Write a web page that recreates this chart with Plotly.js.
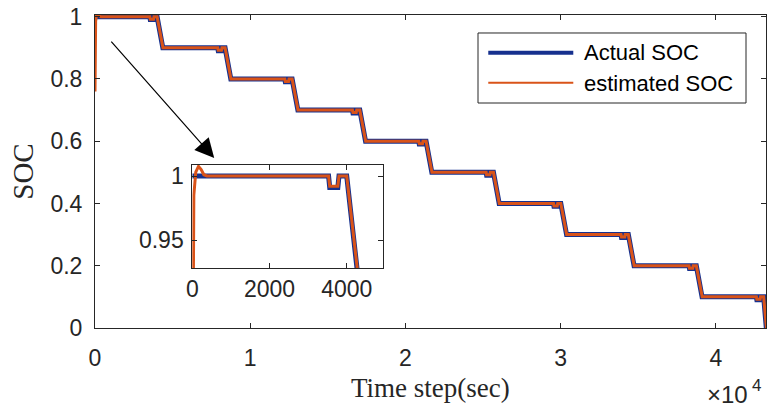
<!DOCTYPE html>
<html>
<head>
<meta charset="utf-8">
<script src="https://cdn.plot.ly/plotly-3.0.1.min.js"></script>
<style>html,body{margin:0;padding:0;background:#fff;}#chart{width:767px;height:410px;}</style>
</head>
<body>
<div id="chart"></div>
<script>
// ---- data ----
var actualTime = [0,
  3530, 3560, 3770, 3800, 4000, 4370,
  7910, 7940, 8150, 8180, 8380, 8750,
  12230, 12260, 12470, 12500, 12700, 13070,
  16590, 16620, 16830, 16860, 17060, 17430,
  20860, 20890, 21100, 21130, 21330, 21700,
  25200, 25230, 25440, 25470, 25670, 26040,
  29540, 29570, 29780, 29810, 30010, 30380,
  33890, 33920, 34130, 34160, 34360, 34730,
  38270, 38300, 38510, 38540, 38740, 39110,
  42610, 42640, 42850, 42880, 43080, 43250];
var actualSOC = [1,
  1, 0.991, 0.991, 1, 1, 0.9,
  0.9, 0.891, 0.891, 0.9, 0.9, 0.8,
  0.8, 0.791, 0.791, 0.8, 0.8, 0.7,
  0.7, 0.691, 0.691, 0.7, 0.7, 0.6,
  0.6, 0.591, 0.591, 0.6, 0.6, 0.5,
  0.5, 0.491, 0.491, 0.5, 0.5, 0.4,
  0.4, 0.391, 0.391, 0.4, 0.4, 0.3,
  0.3, 0.291, 0.291, 0.3, 0.3, 0.2,
  0.2, 0.191, 0.191, 0.2, 0.2, 0.1,
  0.1, 0.091, 0.091, 0.1, 0.1, 0];

var estTime = [0, 15, 40, 90, 160, 230, 300, 380,
  3530, 3560, 3770, 3800, 4000, 4380,
  7910, 7940, 8150, 8180, 8380, 8760,
  12230, 12260, 12470, 12500, 12700, 13080,
  16590, 16620, 16830, 16860, 17060, 17440,
  20860, 20890, 21100, 21130, 21330, 21710,
  25200, 25230, 25440, 25470, 25670, 26050,
  29540, 29570, 29780, 29810, 30010, 30390,
  33890, 33920, 34130, 34160, 34360, 34740,
  38270, 38300, 38510, 38540, 38740, 39120,
  42610, 42640, 42850, 42880, 43080, 43260];
var estSOC = [0.76, 0.92, 0.985, 1.003, 1.0075, 1.005, 1.001, 1.0,
  1, 0.992, 0.992, 1, 1, 0.9,
  0.9, 0.892, 0.892, 0.9, 0.9, 0.8,
  0.8, 0.792, 0.792, 0.8, 0.8, 0.7,
  0.7, 0.692, 0.692, 0.7, 0.7, 0.6,
  0.6, 0.592, 0.592, 0.6, 0.6, 0.5,
  0.5, 0.492, 0.492, 0.5, 0.5, 0.4,
  0.4, 0.392, 0.392, 0.4, 0.4, 0.3,
  0.3, 0.292, 0.292, 0.3, 0.3, 0.2,
  0.2, 0.192, 0.192, 0.2, 0.2, 0.1,
  0.1, 0.092, 0.092, 0.1, 0.1, 0];

var seriesNames = ['Actual SOC', 'estimated SOC'];
var xTickVals = [0, 10000, 20000, 30000, 40000];
var xTickText = ['0', '1', '2', '3', '4'];
var yTickVals = [0, 0.2, 0.4, 0.6, 0.8, 1];
var yTickText = ['0', '0.2', '0.4', '0.6', '0.8', '1'];
var insetXTickVals = [0, 2000, 4000];
var insetXTickText = ['0', '2000', '4000'];
var insetYTickVals = [0.95, 1];
var insetYTickText = ['0.95', '1'];
var xTitle = 'Time step(sec)';
var yTitle = 'SOC';

// ---- styling ----
var BLUE = '#16308e';
var ORANGE = '#d95319';
var AX = '#262626';
var SANS = 'Liberation Sans, Arial, sans-serif';
var SERIF = 'Liberation Serif, Times New Roman, serif';

var traces = [
  {x: actualTime, y: actualSOC, name: seriesNames[0], mode: 'lines', line: {color: BLUE, width: 5}, xaxis: 'x', yaxis: 'y', showlegend: false},
  {x: estTime, y: estSOC, name: seriesNames[1], mode: 'lines', line: {color: ORANGE, width: 3}, xaxis: 'x', yaxis: 'y', showlegend: false},
  {x: actualTime, y: actualSOC, name: seriesNames[0], mode: 'lines', line: {color: BLUE, width: 5}, xaxis: 'x2', yaxis: 'y2', showlegend: false},
  {x: estTime, y: estSOC, name: seriesNames[1], mode: 'lines', line: {color: ORANGE, width: 3}, xaxis: 'x2', yaxis: 'y2', showlegend: false}
];

function axStyle(extra) {
  var a = {
    showgrid: false, zeroline: false, showline: true, mirror: 'ticks',
    linecolor: AX, linewidth: 1, ticks: 'inside', ticklen: 5, tickwidth: 1, tickcolor: AX,
    tickfont: {family: SANS, size: 23, color: AX}, tickmode: 'array', fixedrange: true
  };
  for (var k in extra) a[k] = extra[k];
  return a;
}

var layout = {
  width: 767, height: 410,
  margin: {l: 95, r: 1, t: 15, b: 82},
  paper_bgcolor: '#fff', plot_bgcolor: '#fff',
  showlegend: false,
  xaxis: axStyle({domain: [0, 1], anchor: 'y', range: [0, 43230], tickvals: xTickVals, ticktext: xTickText,
    ticklabelstandoff: 9}),
  yaxis: axStyle({domain: [0, 1], anchor: 'x', range: [0, 1.0055], tickvals: yTickVals, ticktext: yTickText,
    ticklabelstandoff: 7,
    title: {text: yTitle, font: {family: SERIF, size: 29, color: AX}, standoff: 8}}),
  xaxis2: axStyle({domain: [0.145, 0.4288], anchor: 'y2', range: [0, 4933], tickvals: insetXTickVals, ticktext: insetXTickText,
    ticklabelstandoff: 0}),
  yaxis2: axStyle({domain: [0.1907, 0.5208], anchor: 'x2', range: [0.928, 1.0086], tickvals: insetYTickVals, ticktext: insetYTickText,
    ticklabelstandoff: 3}),
  shapes: [
    {type: 'rect', xref: 'paper', yref: 'paper', x0: 0.5708, x1: 0.9702, y0: 0.7188, y1: 0.9425,
      line: {color: AX, width: 1}, fillcolor: '#fff', layer: 'above'},
    {type: 'line', xref: 'paper', yref: 'paper', x0: 0.5861, x1: 0.7128, y0: 0.8796, y1: 0.8796,
      line: {color: BLUE, width: 4}, layer: 'above'},
    {type: 'line', xref: 'paper', yref: 'paper', x0: 0.5861, x1: 0.7128, y0: 0.7837, y1: 0.7837,
      line: {color: ORANGE, width: 2}, layer: 'above'}
  ],
  annotations: [
    {xref: 'paper', yref: 'paper', x: 0.7253, y: 0.8796, xanchor: 'left', yanchor: 'middle', showarrow: false,
      text: seriesNames[0], font: {family: SANS, size: 22, color: '#000'}},
    {xref: 'paper', yref: 'paper', x: 0.7253, y: 0.7796, xanchor: 'left', yanchor: 'middle', showarrow: false,
      text: seriesNames[1], font: {family: SANS, size: 22, color: '#000'}},
    {xref: 'x', yref: 'y', x: 7680, y: 0.5459, axref: 'x', ayref: 'y', ax: 856, ay: 0.9311,
      text: ' ', showarrow: true, arrowhead: 2, arrowsize: 3.2, arrowwidth: 1.2, arrowcolor: '#000'},
    {xref: 'paper', yref: 'paper', x: 0.5, y: -0.192, xanchor: 'center', yanchor: 'middle', showarrow: false,
      text: xTitle, font: {family: SERIF, size: 27, color: AX}},
    {xref: 'paper', yref: 'paper', x: 0.9762, y: -0.214, xanchor: 'right', yanchor: 'middle', showarrow: false,
      text: '\u00d710', font: {family: SANS, size: 24, color: AX}},
    {xref: 'paper', yref: 'paper', x: 0.9755, y: -0.183, xanchor: 'left', yanchor: 'middle', showarrow: false,
      text: '4', font: {family: SANS, size: 17, color: AX}}
  ]
};

Plotly.newPlot('chart', traces, layout, {displayModeBar: false, staticPlot: true});
</script>
</body>
</html>
